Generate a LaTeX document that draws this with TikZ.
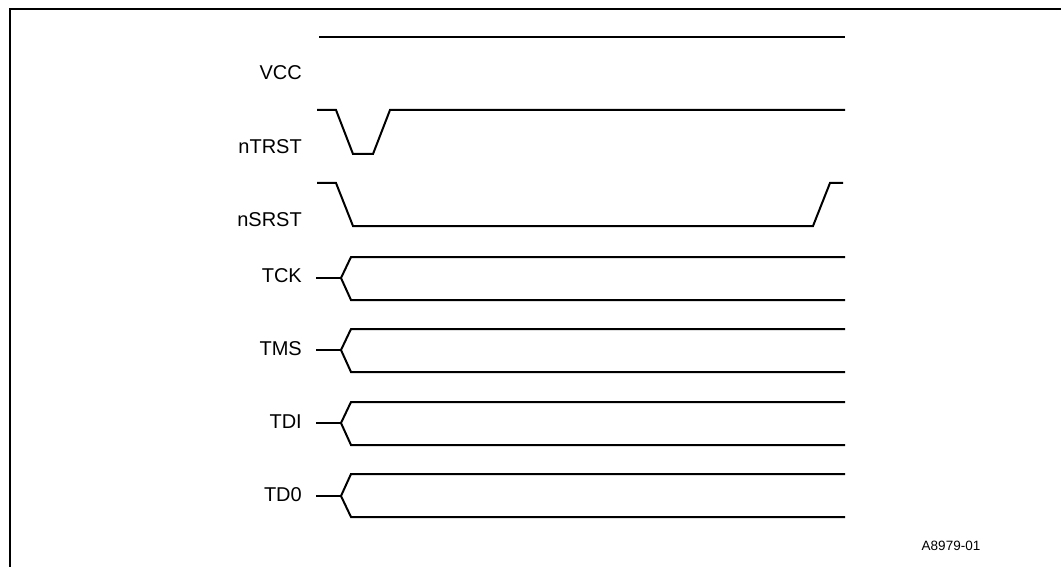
\documentclass[tikz,border=0pt]{standalone}
\usepackage{fontspec}
\setmainfont{Liberation Sans}
\begin{document}
\begin{tikzpicture}[x=1pt,y=-1pt,
  sig/.style={line width=2pt,line join=miter,black},
  frame/.style={line width=2.4pt,black},
  siglabel/.style={anchor=east,inner sep=0pt,font=\fontsize{20}{24}\selectfont},
  figid/.style={anchor=center,inner sep=0pt,font=\fontsize{13.5}{16}\selectfont}]
\useasboundingbox (0,0) rectangle (1061,567);
% frame (only left and top edges visible)
\draw[frame] (10,567) -- (10,9) -- (1061,9);
% labels
\node[siglabel] (vcc)   at (302,73)  {VCC};
\node[siglabel] (ntrst) at (302,147) {nTRST};
\node[siglabel] (nsrst) at (302,220) {nSRST};
\node[siglabel] (tck)   at (302,276) {TCK};
\node[siglabel] (tms)   at (302,349) {TMS};
\node[siglabel] (tdi)   at (302,422) {TDI};
\node[siglabel] (tdo)   at (302,495) {TD0};
\node[figid] (id) at (951,546) {A8979-01};
% VCC
\draw[sig] (319,37) -- (845,37);
% nTRST
\draw[sig] (317,110) -- (336,110) -- (353,154) -- (373,154) -- (390,110) -- (845,110);
% nSRST
\draw[sig] (317,183) -- (336,183) -- (353,226) -- (813,226) -- (830,183) -- (843,183);
% bus signals
\foreach \t/\m/\b in {257/278/300, 329/350/372, 402/423/445, 474/496/517}{
  \draw[sig] (316,\m) -- (341,\m);
  \draw[sig] (845,\t) -- (351,\t) -- (341,\m) -- (351,\b) -- (845,\b);
}
\end{tikzpicture}
\end{document}
